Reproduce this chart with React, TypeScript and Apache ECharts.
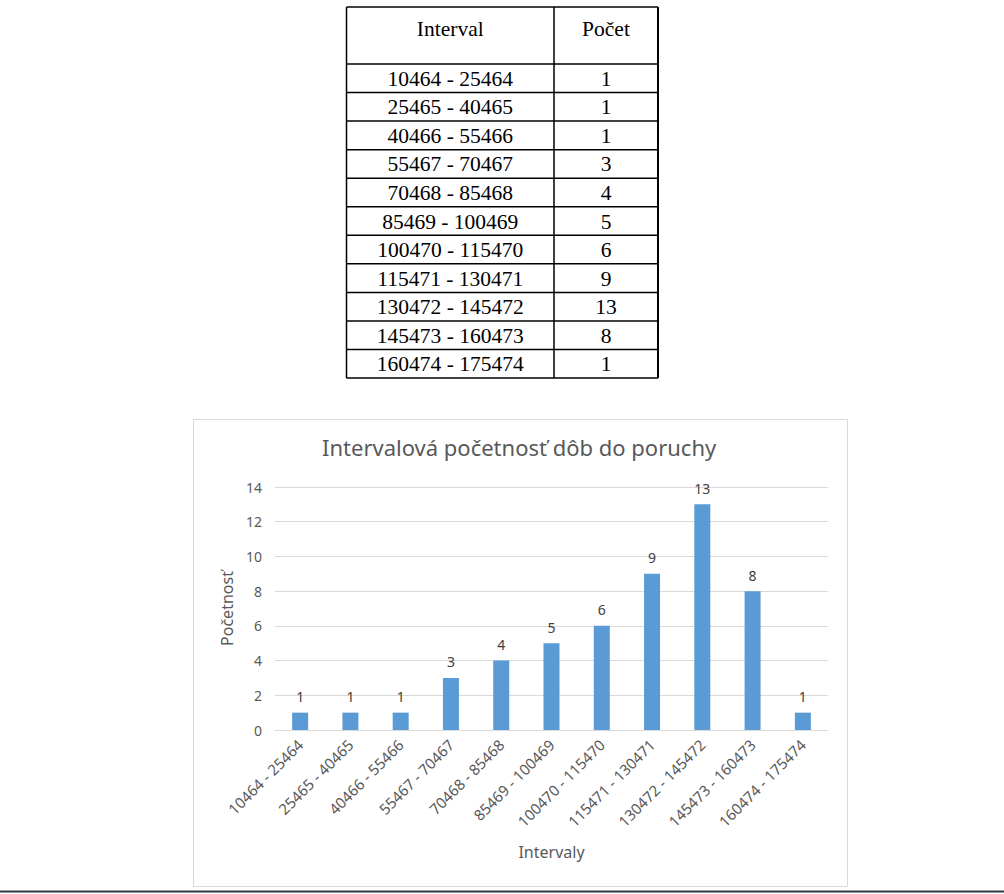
import React, { useEffect, useRef } from "react";
import * as echarts from "echarts";

const tableHeaders = ["Interval", "Počet"];
const intervals = [
  "10464 - 25464",
  "25465 - 40465",
  "40466 - 55466",
  "55467 - 70467",
  "70468 - 85468",
  "85469 - 100469",
  "100470 - 115470",
  "115471 - 130471",
  "130472 - 145472",
  "145473 - 160473",
  "160474 - 175474",
];
const counts = [1, 1, 1, 3, 4, 5, 6, 9, 13, 8, 1];
const chartTitle = "Intervalová početnosť dôb do poruchy";
const xAxisTitle = "Intervaly";
const yAxisTitle = "Početnosť";
const yMin = 0;
const yMax = 14;
const yStep = 2;

export default function App() {
  const ref = useRef<HTMLDivElement>(null);

  useEffect(() => {
    if (!ref.current) return;
    const chart = echarts.init(ref.current, null, { renderer: "svg" });

    // table layout
    const tL = 346.5;
    const tR = 658;
    const tC = 554;
    const tTop = 7;
    const hdrBottom = 64;
    const rowH = 28.55;
    const tBottom = hdrBottom + rowH * intervals.length;
    const serif = '21.5px "Liberation Serif", "Times New Roman", serif';

    const g: any[] = [];
    const line = (x1: number, y1: number, x2: number, y2: number, w = 1.5) =>
      g.push({
        type: "line",
        shape: { x1, y1, x2, y2 },
        style: { stroke: "#000", lineWidth: w },
        silent: true,
      });
    const txt = (x: number, y: number, text: string) =>
      g.push({
        type: "text",
        x,
        y,
        style: {
          text,
          font: serif,
          fill: "#000",
          align: "center",
          verticalAlign: "middle",
          textAlign: "center",
          textVerticalAlign: "middle",
        },
        silent: true,
      });

    line(tL, tTop, tR, tTop);
    line(tL, tTop, tL, tBottom);
    line(tR, tTop, tR, tBottom, 2);
    line(tC, tTop, tC, tBottom);
    line(tL, hdrBottom, tR, hdrBottom);
    for (let i = 0; i < intervals.length; i++) {
      const yb = hdrBottom + rowH * (i + 1);
      line(tL, yb, tR, yb);
      const yc = hdrBottom + rowH * (i + 0.5);
      txt((tL + tC) / 2, yc + 0.5, intervals[i]);
      txt((tC + tR) / 2, yc + 0.5, String(counts[i]));
    }
    txt((tL + tC) / 2, 29, tableHeaders[0]);
    txt((tC + tR) / 2, 29, tableHeaders[1]);

    // chart frame
    g.push({
      type: "rect",
      shape: { x: 193.5, y: 419.5, width: 654, height: 467 },
      style: { fill: "none", stroke: "#d9d9d9", lineWidth: 1 },
      silent: true,
      z: -10,
    });
    // bottom dark line of the page
    g.push({
      type: "line",
      shape: { x1: 0, y1: 891.5, x2: 1004, y2: 891.5 },
      style: { stroke: "#2b3845", lineWidth: 2 },
      silent: true,
    });

    const sans = '"Noto Sans", "Open Sans", sans-serif';

    chart.setOption({
      animation: false,
      backgroundColor: "#ffffff",
      title: {
        text: chartTitle,
        left: 322,
        top: 436,
        padding: 0,
        textStyle: {
          fontFamily: sans,
          fontSize: 22,
          fontWeight: "normal",
          color: "#595959",
        },
      },
      grid: {
        left: 275,
        right: 176,
        top: 487,
        bottom: 164,
        containLabel: false,
      },
      xAxis: {
        type: "category",
        data: intervals,
        name: xAxisTitle,
        nameLocation: "middle",
        nameGap: 114,
        nameTextStyle: { fontFamily: sans, fontSize: 16, color: "#595959" },
        axisLine: { show: true, lineStyle: { color: "#d9d9d9" } },
        axisTick: { show: false },
        axisLabel: {
          interval: 0,
          rotate: 45,
          margin: 12,
          fontFamily: sans,
          fontSize: 15,
          color: "#595959",
        },
      },
      yAxis: {
        type: "value",
        min: yMin,
        max: yMax,
        interval: yStep,
        name: yAxisTitle,
        nameLocation: "middle",
        nameRotate: 90,
        nameGap: 38,
        nameTextStyle: { fontFamily: sans, fontSize: 16, color: "#595959" },
        axisLine: { show: false },
        axisTick: { show: false },
        axisLabel: {
          margin: 13,
          fontFamily: sans,
          fontSize: 14,
          color: "#595959",
        },
        splitLine: { lineStyle: { color: "#d9d9d9" } },
      },
      series: [
        {
          type: "bar",
          data: counts,
          barWidth: 16,
          itemStyle: { color: "#5b9bd5" },
          label: {
            show: true,
            position: "top",
            distance: 9,
            fontFamily: sans,
            fontSize: 14,
            color: "#404040",
          },
        },
      ],
      graphic: g,
    });

    return () => chart.dispose();
  }, []);

  return (
    <div
      ref={ref}
      style={{
        position: "absolute",
        left: 0,
        top: 0,
        width: 1004,
        height: 894,
        background: "#fff",
      }}
    />
  );
}
